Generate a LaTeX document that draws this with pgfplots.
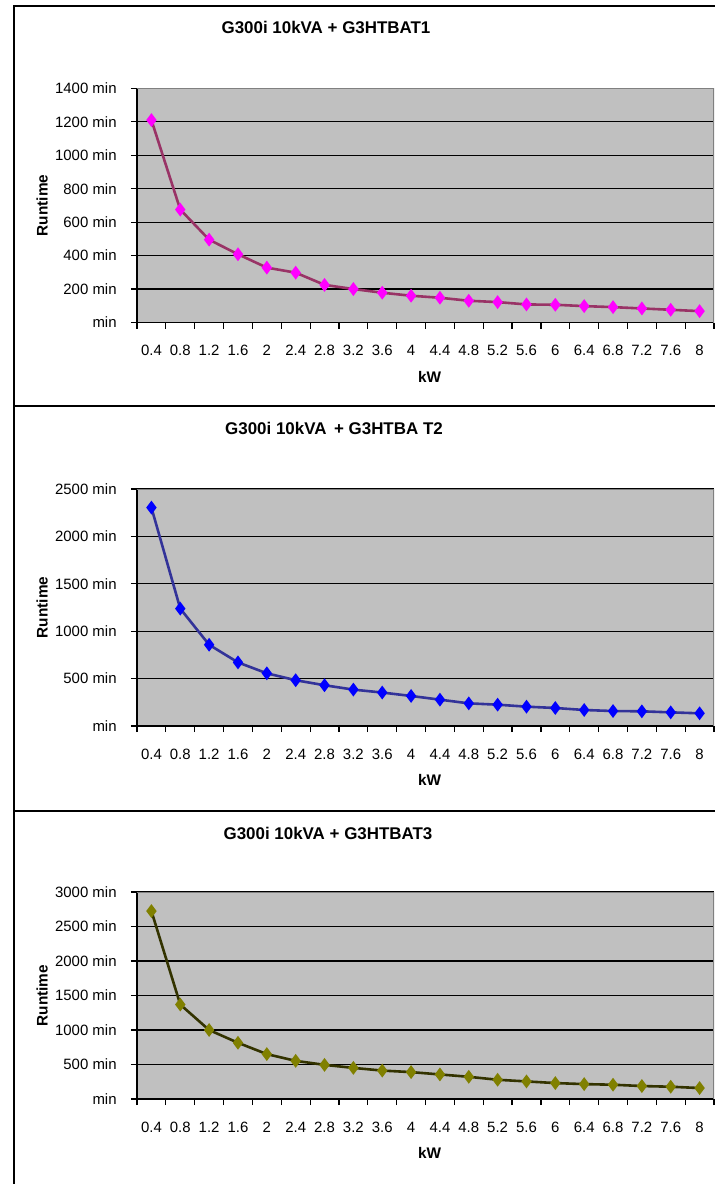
\documentclass[border=0pt]{standalone}
\usepackage{fontspec}
\setmainfont{Liberation Sans}
\usepackage{pgfplots}
\pgfplotsset{compat=1.18}

\definecolor{plotbg}{RGB}{192,192,192}
\definecolor{lineA}{RGB}{153,51,102}
\definecolor{markA}{RGB}{255,0,255}
\definecolor{lineB}{RGB}{51,51,153}
\definecolor{markB}{RGB}{0,0,255}
\definecolor{lineC}{RGB}{51,51,0}
\definecolor{markC}{RGB}{128,128,0}

\tikzset{topframe/.style={draw=gray, line width=0.9bp}}

\pgfplotsset{
  runtime/.style={
    scale only axis, width=288.5bp, anchor=south west,
    xmin=-0.5, xmax=19.5, ymin=0,
    xtick={-0.5,0.5,...,19.5},
    xticklabels={0.4,0.8,1.2,1.6,2,2.4,2.8,3.2,3.6,4,4.4,4.8,5.2,5.6,6,6.4,6.8,7.2,7.6,8},
    x tick label as interval,
    axis x line*=bottom, axis y line*=left,
    axis line style={black, line width=0.6bp, -},
    tick align=outside,
    major tick length=3bp,
    tick style={black, line width=0.6bp},
    ymajorgrids, major grid style={black, line width=0.6bp},
    axis background/.style={fill=plotbg},
    ticklabel style={font=\fontsize{7.5}{9}\selectfont},
    xticklabel style={anchor=center, yshift=-11bp},
    yticklabel style={anchor=east, inner sep=0pt, xshift=-7bp},
    xlabel={kW}, ylabel={Runtime},
    label style={font=\bfseries\fontsize{7.7}{9}\selectfont},
    xlabel style={at={(axis description cs:0.507,0)}, anchor=center, yshift=-27bp},
    ylabel style={at={(axis description cs:-0.1646,0.5)}, anchor=center},
  },
}

\begin{document}
\begin{tikzpicture}
\useasboundingbox (0,0) rectangle (357.5bp,-592bp);
\fill[white] (0,0) rectangle (357.5bp,-592bp);

% chart 1
\begin{axis}[runtime, at={(68.5bp,-161.25bp)}, height=117.1bp, ymax=1400,
  ytick={0,200,...,1400},
  yticklabels={min,200 min,400 min,600 min,800 min,1000 min,1200 min,1400 min}]
\addplot[lineA, line width=1.3bp, mark=diamond*, mark size=2.4bp,
  mark options={fill=markA, draw=markA}] table {
x y
0 1210
1 675
2 495
3 408
4 328
5 298
6 225
7 200
8 178
9 160
10 148
11 130
12 122
13 108
14 106
15 98
16 92
17 84
18 76
19 68
};
\draw[topframe] (rel axis cs:0,1) -- (rel axis cs:1,1) -- (rel axis cs:1,0);
\end{axis}

% chart 2
\begin{axis}[runtime, at={(68.5bp,-363bp)}, height=118.5bp, ymax=2500,
  ytick={0,500,...,2500},
  yticklabels={min,500 min,1000 min,1500 min,2000 min,2500 min}]
\addplot[lineB, line width=1.3bp, mark=diamond*, mark size=2.4bp,
  mark options={fill=markB, draw=markB}] table {
x y
0 2304
1 1238
2 857
3 671
4 556
5 483
6 430
7 384
8 353
9 317
10 278
11 239
12 225
13 204
14 190
15 169
16 158
17 155
18 144
19 134
};
\draw[topframe] (rel axis cs:0,1) -- (rel axis cs:1,1) -- (rel axis cs:1,0);
\end{axis}

% chart 3
\begin{axis}[runtime, at={(68.5bp,-549.5bp)}, height=103.5bp, ymax=3000,
  ytick={0,500,...,3000},
  yticklabels={min,500 min,1000 min,1500 min,2000 min,2500 min,3000 min}]
\addplot[lineC, line width=1.3bp, mark=diamond*, mark size=2.4bp,
  mark options={fill=markC, draw=markC}] table {
x y
0 2724
1 1369
2 1000
3 815
4 651
5 553
6 495
7 451
8 412
9 390
10 356
11 322
12 279
13 255
14 231
15 216
16 207
17 188
18 178
19 159
};
\draw[topframe] (rel axis cs:0,1) -- (rel axis cs:1,1) -- (rel axis cs:1,0);
\end{axis}

% titles
\begin{scope}[every node/.style={font=\bfseries\fontsize{8.5}{10}\selectfont}]
\node at (163bp,-13.75bp) {G300i 10kVA + G3HTBAT1};
\node at (167bp,-214bp) {G300i 10kVA \,+ G3HTBA T2};
\node at (164bp,-416.5bp) {G300i 10kVA + G3HTBAT3};
\end{scope}

% chart frames
\draw[line width=0.7bp] (7bp,-592bp) -- (7bp,-3bp) -- (357.5bp,-3bp);
\draw[line width=0.7bp] (7bp,-203bp) -- (357.5bp,-203bp);
\draw[line width=0.7bp] (7bp,-405.5bp) -- (357.5bp,-405.5bp);
\end{tikzpicture}
\end{document}
